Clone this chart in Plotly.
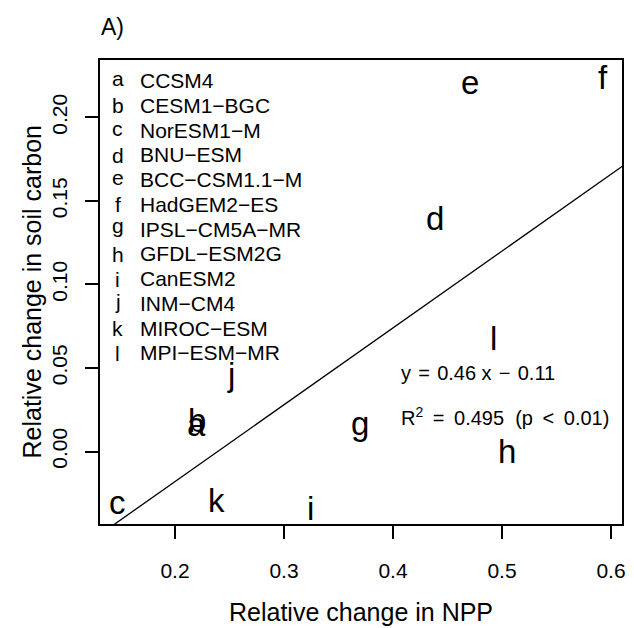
import plotly.graph_objects as go

# ---------------- data ----------------
labels = ["a", "b", "c", "d", "e", "f", "g", "h", "i", "j", "k", "l"]
models = ["CCSM4", "CESM1\u2212BGC", "NorESM1\u2212M", "BNU\u2212ESM", "BCC\u2212CSM1.1\u2212M",
          "HadGEM2\u2212ES", "IPSL\u2212CM5A\u2212MR", "GFDL\u2212ESM2G", "CanESM2", "INM\u2212CM4",
          "MIROC\u2212ESM", "MPI\u2212ESM\u2212MR"]
npp_change = [0.2195, 0.2204, 0.1476, 0.4385, 0.4705, 0.5925, 0.3700, 0.5050, 0.3245, 0.2515, 0.2377, 0.4922]
soil_change = [0.0147, 0.0189, -0.0320, 0.1398, 0.2195, 0.2243, 0.0129, 0.0003, -0.0338, 0.0446, -0.0290, 0.0680]
x_tickvals = [0.2, 0.3, 0.4, 0.5, 0.6]
x_ticktext = ["0.2", "0.3", "0.4", "0.5", "0.6"]
y_tickvals = [0.00, 0.05, 0.10, 0.15, 0.20]
y_ticktext = ["0.00", "0.05", "0.10", "0.15", "0.20"]
fit_slope = 0.46
fit_intercept = -0.11
eq_text = "y\u200a = \u200a0.46 x\u200a \u2212 \u200a0.11"
r2_text = "R<sup>2</sup>\u2009 = \u20090.495\u00a0\u00a0(p\u2009 &lt; \u20090.01)"
panel_title = "A)"
x_title = "Relative change in NPP"
y_title = "Relative change in soil carbon"

# ---------------- layout constants ----------------
W, H = 634, 628
ML, MR, MT, MB = 100, 8, 60, 104
PW, PH = W - ML - MR, H - MT - MB
X_RANGE = [0.1312, 0.6101]
Y_RANGE = [-0.0434, 0.2344]
FONT = "Liberation Sans, Arial, Helvetica, sans-serif"

def px_x(px):
    return (px - ML) / PW

def px_y(py):
    return 1 - (py - MT) / PH

# glyph ink centre above baseline (em) -> mimics R's exact vertical centring of text()
GLYPH_MID = {"a": 0.265, "c": 0.265, "e": 0.265, "g": 0.165, "j": 0.26,
             "b": 0.362, "d": 0.362, "f": 0.362, "h": 0.362, "i": 0.362,
             "k": 0.362, "l": 0.362}
BOX_MID = 0.3465

def yshift_for(ch, size):
    return (BOX_MID - GLYPH_MID.get(ch, BOX_MID)) * size

fig = go.Figure()

# regression line (clipped by the axes)
fit_x = X_RANGE
fit_y = [fit_slope * v + fit_intercept for v in fit_x]
fig.add_trace(go.Scatter(x=fit_x, y=fit_y, mode="lines",
                         line=dict(color="black", width=1.3),
                         hoverinfo="skip", showlegend=False))

annotations = []
PT_SIZE = 33
for lab, xv, yv in zip(labels, npp_change, soil_change):
    annotations.append(dict(x=xv, y=yv, xref="x", yref="y", text=lab, showarrow=False,
                            xanchor="center", yanchor="middle",
                            yshift=yshift_for(lab, PT_SIZE),
                            font=dict(family=FONT, size=PT_SIZE, color="black")))

# legend (R style, no box)
LEG_SIZE = 21
leg_top, leg_step = 80.7, 24.75
for i, (lab, name) in enumerate(zip(labels, models)):
    yy = px_y(leg_top + i * leg_step)
    annotations.append(dict(x=px_x(118), y=yy, xref="paper", yref="paper", text=lab,
                            showarrow=False, xanchor="center", yanchor="middle",
                            yshift=yshift_for(lab, LEG_SIZE),
                            font=dict(family=FONT, size=LEG_SIZE, color="black")))
    annotations.append(dict(x=px_x(138), y=yy, xref="paper", yref="paper", text=name,
                            showarrow=False, xanchor="left", yanchor="middle",
                            font=dict(family=FONT, size=LEG_SIZE, color="black")))

# equation texts
annotations.append(dict(x=px_x(401), y=px_y(373), xref="paper", yref="paper", text=eq_text,
                        showarrow=False, xanchor="left", yanchor="middle",
                        font=dict(family=FONT, size=20, color="black")))
annotations.append(dict(x=px_x(401), y=px_y(416), xref="paper", yref="paper", text=r2_text,
                        showarrow=False, xanchor="left", yanchor="middle",
                        font=dict(family=FONT, size=20, color="black")))

# panel title and axis titles
annotations.append(dict(x=px_x(99), y=px_y(27), xref="paper", yref="paper", text=panel_title,
                        showarrow=False, xanchor="left", yanchor="middle",
                        font=dict(family=FONT, size=23, color="black")))
annotations.append(dict(x=px_x((ML + W - MR) / 2), y=px_y(612), xref="paper", yref="paper",
                        text=x_title, showarrow=False, xanchor="center", yanchor="middle",
                        font=dict(family=FONT, size=25, color="black")))
annotations.append(dict(x=px_x(31), y=px_y(MT + PH / 2), xref="paper", yref="paper",
                        text=y_title, showarrow=False, xanchor="center", yanchor="middle",
                        textangle=-90,
                        font=dict(family=FONT, size=25, color="black")))

axis_common = dict(showgrid=False, zeroline=False, showline=True, mirror=True,
                   linecolor="black", linewidth=1.5, ticks="outside", ticklen=13,
                   tickwidth=1.5, tickcolor="black",
                   tickfont=dict(family=FONT, size=21, color="black"))

fig.update_layout(
    width=W, height=H, autosize=False,
    margin=dict(l=ML, r=MR, t=MT, b=MB, pad=0),
    paper_bgcolor="white", plot_bgcolor="white",
    showlegend=False,
    xaxis=dict(range=X_RANGE, tickmode="array", tickvals=x_tickvals, ticktext=x_ticktext,
               ticklabelstandoff=14, **axis_common),
    yaxis=dict(range=Y_RANGE, tickmode="array", tickvals=y_tickvals, ticktext=y_ticktext,
               tickangle=-90, ticklabelstandoff=10, **axis_common),
    annotations=annotations,
)

fig.write_html("out.html")
